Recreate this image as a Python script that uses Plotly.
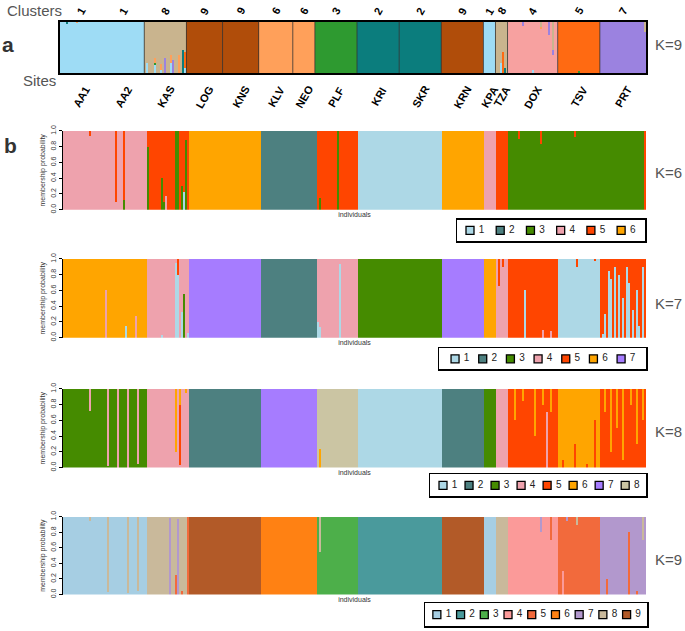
import numpy as np
import plotly.graph_objects as go

W, H = 685, 631

# ---------------- data ----------------
site_names = ["AA1", "AA2", "KAS", "LOG", "KNS", "KLV", "NEO", "PLF", "KRI", "SKR",
              "KRN", "KPA", "TZA", "DOX", "TSV", "PRT"]
site_counts = [21, 21, 21, 18, 18, 17, 11, 21, 21, 21, 21, 6, 6, 25, 21, 23]

# panel a (K=9) dominant cluster per site (also the "Clusters" labels)
dominant_a = [1, 1, 8, 9, 9, 6, 6, 3, 2, 2, 9, 1, 8, 4, 5, 7]
dominant_k6 = [4, 4, 5, 6, 6, 2, 2, 5, 1, 1, 6, 4, 5, 3, 3, 3]
dominant_k7 = [6, 6, 4, 7, 7, 2, 2, 4, 3, 3, 7, 6, 4, 5, 1, 5]
dominant_k8 = [3, 3, 4, 2, 2, 7, 7, 8, 1, 1, 2, 3, 4, 5, 6, 5]
dominant_k9 = [1, 1, 8, 9, 9, 6, 6, 3, 2, 2, 9, 1, 8, 4, 5, 7]

# admixed individuals: index -> {cluster: membership}
admix_a = {3: {2: 0.04}, 8: {6: 0.03}, 43: {1: 0.2}, 47: {1: 0.15, 3: 0.05, 6: 0.1},
           50: {1: 0.05, 6: 0.12}, 52: {7: 0.3}, 55: {1: 0.2, 6: 0.15}, 56: {7: 0.25},
           59: {6: 0.35}, 61: {2: 0.45}, 62: {1: 0.1, 5: 0.3}, 219: {1: 0.2},
           220: {5: 0.4}, 221: {2: 0.1}, 230: {7: 0.08}, 235: {1: 0.05},
           239: {6: 0.05, 8: 0.1}, 243: {7: 0.25}, 245: {7: 0.1, 8: 0.55},
           258: {3: 0.03}, 291: {8: 0.2}}
admix_k6 = {13: {5: 0.07}, 26: {5: 0.9}, 30: {3: 0.12, 5: 0.88}, 42: {3: 0.8},
            49: {3: 0.4}, 51: {4: 0.18}, 50: {3: 0.1}, 56: {3: 1.0}, 57: {3: 1.0},
            59: {3: 0.3}, 60: {1: 0.23}, 61: {3: 0.88}, 128: {3: 0.15}, 137: {3: 1.0},
            228: {5: 0.1}, 239: {5: 0.17}, 256: {5: 0.08}, 291: {5: 1.0}}
admix_k7 = {21: {4: 0.6}, 31: {1: 0.15}, 36: {4: 0.28}, 49: {1: 0.03}, 56: {1: 0.95},
            57: {1: 0.8, 5: 0.2}, 59: {1: 0.33}, 60: {3: 0.55}, 62: {1: 0.06},
            127: {1: 0.2}, 128: {1: 0.13}, 138: {1: 0.93}, 218: {5: 0.35}, 220: {5: 0.1},
            231: {1: 0.6}, 240: {4: 0.1}, 244: {4: 0.08}, 257: {5: 0.1}, 266: {5: 0.03},
            270: {1: 0.05}, 271: {1: 0.3}, 273: {1: 0.85}, 274: {1: 0.75}, 276: {1: 0.9},
            278: {1: 0.8}, 280: {1: 0.5}, 282: {1: 0.9}, 283: {1: 0.7}, 285: {1: 0.35},
            287: {1: 0.6}, 288: {1: 0.15}, 290: {1: 0.9}}
admix_k8 = {13: {4: 0.28}, 22: {4: 0.98}, 27: {4: 1.0}, 32: {4: 1.0}, 37: {4: 0.95},
            56: {6: 0.8}, 58: {5: 0.77, 6: 0.2}, 61: {6: 0.05}, 128: {6: 0.23},
            226: {6: 0.4}, 230: {6: 0.15}, 236: {6: 0.6}, 240: {6: 0.2}, 242: {4: 0.7},
            244: {6: 0.3}, 250: {5: 0.1}, 256: {5: 0.3}, 262: {5: 0.05}, 266: {5: 0.6},
            271: {6: 0.3}, 274: {6: 0.8}, 277: {6: 0.5}, 280: {6: 0.9}, 284: {6: 0.2},
            287: {6: 0.7}, 290: {6: 0.4}}
admix_k9 = {13: {8: 0.05}, 22: {8: 0.97}, 32: {8: 0.98}, 37: {8: 0.95}, 53: {7: 0.98},
            56: {5: 0.25}, 57: {7: 0.97}, 59: {5: 0.05}, 62: {5: 1.0}, 128: {8: 0.45},
            239: {7: 0.2}, 244: {5: 0.3}, 250: {4: 0.3}, 252: {7: 0.05}, 257: {8: 0.1},
            272: {5: 0.2}, 283: {5: 0.8}, 287: {5: 0.05}, 290: {8: 0.3}}

colors_a = ["#9edcf5", "#0b7d7d", "#2e9a30", "#f7a1a0", "#ff6a12", "#ffa05a",
            "#9b82e0", "#c9b48e", "#b04d0a"]
colors_b = ["#add8e6", "#4d8080", "#458b00", "#eea2ad", "#ff4500", "#ffa500",
            "#a67cff", "#cbc5a3"]
colors_b9 = ["#a6cee3", "#4a9a9c", "#4daf4a", "#fb9a99", "#f26a3c", "#ff8113",
             "#b298cd", "#c9b99b", "#b25a28"]

# ---------------- helpers ----------------
def px(x):
    return x / W

def py(y):
    return 1 - y / H

N = sum(site_counts)
site_of = np.repeat(np.arange(len(site_counts)), site_counts)
starts = np.concatenate([[0], np.cumsum(site_counts)[:-1]])
centers = starts + np.array(site_counts) / 2 - 0.5
idx = np.arange(N)


def membership(K, dominant, admix):
    q = np.zeros((N, K))
    for i in range(N):
        d = dominant[site_of[i]]
        extra = admix.get(i, {})
        rest = 1.0
        for c, v in extra.items():
            q[i, c - 1] += v
            rest -= v
        q[i, d - 1] += max(rest, 0)
    return q


fig = go.Figure()

panels = [
    # K, dominant, admix, colors, axis n, y0, y1
    (9, dominant_a, admix_a, colors_a, 1, 16, 68),
    (6, dominant_k6, admix_k6, colors_b, 2, 127, 207),
    (7, dominant_k7, admix_k7, colors_b, 3, 257, 337),
    (8, dominant_k8, admix_k8, colors_b, 4, 389, 469),
    (9, dominant_k9, admix_k9, colors_b9, 5, 519, 598),
]
legend_boxes = {2: (457, 645, 217, 239, -0.43, 5.79),
                3: (439, 646, 348, 369, -0.58, 6.9),
                4: (430, 646, 476, 498, -0.5, 7.8),
                5: (425, 647, 607, 630, -0.5, 8.86)}

FONT = "Liberation Sans, Arial, sans-serif"

for K, dom, adm, cols, n, y0, y1 in panels:
    q = membership(K, dom, adm)
    xa = "x" if n == 1 else f"x{n}"
    ya = "y" if n == 1 else f"y{n}"
    for c in range(K):
        fig.add_trace(go.Bar(x=idx, y=q[:, c], xaxis=xa, yaxis=ya,
                             marker=dict(color=cols[c], line=dict(width=0)),
                             showlegend=False, hoverinfo="skip"))
    x0p = 60 if n == 1 else 63
    xkey = "xaxis" if n == 1 else f"xaxis{n}"
    ykey = "yaxis" if n == 1 else f"yaxis{n}"
    if n == 1:
        fig.update_layout(**{
            xkey: dict(domain=[px(x0p), px(646)], range=[-0.5, N - 0.5], showticklabels=False,
                       ticks="", showgrid=False, zeroline=False, showline=True, mirror=True,
                       linecolor="black", linewidth=2, anchor=ya),
            ykey: dict(domain=[py(y1), py(y0)], range=[0, 1], showticklabels=False, ticks="",
                       showgrid=False, zeroline=False, showline=True, mirror=True,
                       linecolor="black", linewidth=2, anchor=xa),
        })
    else:
        fig.update_layout(**{
            xkey: dict(domain=[px(x0p), px(646)], range=[-0.5, N - 0.5], showticklabels=False,
                       ticks="", showgrid=False, zeroline=False, showline=False, anchor=ya,
                       title=dict(text="individuals", font=dict(size=7, color="#333", family=FONT),
                                  standoff=2)),
            ykey: dict(domain=[py(y1), py(y0)], range=[0, 1], tickvals=[0, 0.2, 0.4, 0.6, 0.8, 1.0],
                       ticktext=["0.0", "0.2", "0.4", "0.6", "0.8", "1.0"], tickangle=-90,
                       tickfont=dict(size=7, color="#333", family=FONT), ticks="outside", ticklen=3,
                       tickcolor="black", showgrid=False, zeroline=False, showline=True,
                       linecolor="black", linewidth=1, anchor=xa,
                       title=dict(text="membership probability",
                                  font=dict(size=7, color="#333", family=FONT), standoff=3)),
        })
        # legend subplot
        lx0, lx1, ly0, ly1, lo, hi = legend_boxes[n]
        ln = n + 4
        lxa, lya = f"x{ln}", f"y{ln}"
        fig.add_trace(go.Scatter(x=list(range(K)), y=[0] * K, xaxis=lxa, yaxis=lya,
                                 mode="markers+text", text=[f" {c + 1}" for c in range(K)],
                                 textposition="middle right",
                                 textfont=dict(size=10, color="#222", family=FONT),
                                 marker=dict(symbol="square", size=8, color=cols[:K],
                                             line=dict(color="black", width=1.3)),
                                 showlegend=False, hoverinfo="skip", cliponaxis=False))
        fig.update_layout(**{
            f"xaxis{ln}": dict(domain=[px(lx0), px(lx1)], range=[lo, hi], visible=True,
                               showticklabels=False, ticks="", showgrid=False, zeroline=False,
                               showline=True, mirror=True, linecolor="black", linewidth=1.5,
                               anchor=lya),
            f"yaxis{ln}": dict(domain=[py(ly1), py(ly0)], range=[-1, 1], showticklabels=False,
                               ticks="", showgrid=False, zeroline=False, showline=True,
                               mirror=True, linecolor="black", linewidth=1.5, anchor=lxa),
        })

# site boundary lines in panel a
shapes = []
for b in np.cumsum(site_counts)[1:-1]:
    shapes.append(dict(type="line", xref="x", yref="y domain", x0=b - 0.5, x1=b - 0.5,
                       y0=0, y1=1, line=dict(color="#333", width=0.8)))

annotations = []
annotations.append(dict(text="Clusters", x=px(5), y=py(5), xref="paper", yref="paper",
                        xanchor="left", yanchor="middle", showarrow=False,
                        font=dict(size=15, color="#555", family=FONT)))
annotations.append(dict(text="Sites", x=px(58), y=py(76), xref="paper", yref="paper",
                        xanchor="right", yanchor="middle", showarrow=False,
                        font=dict(size=15, color="#555", family=FONT)))
annotations.append(dict(text="<b>a</b>", x=px(8), y=py(39), xref="paper", yref="paper",
                        xanchor="center", yanchor="middle", showarrow=False,
                        font=dict(size=21, color="#333", family=FONT)))
annotations.append(dict(text="<b>b</b>", x=px(10), y=py(142), xref="paper", yref="paper",
                        xanchor="center", yanchor="middle", showarrow=False,
                        font=dict(size=21, color="#333", family=FONT)))
for txt, yy in [("K=9", 39), ("K=6", 169), ("K=7", 302), ("K=8", 432), ("K=9", 562)]:
    annotations.append(dict(text=txt, x=px(653), y=py(yy), xref="paper", yref="paper",
                            xanchor="left", yanchor="middle", showarrow=False,
                            font=dict(size=15, color="#555", family=FONT)))
for name, cx, cl in zip(site_names, centers, dominant_a):
    annotations.append(dict(text=f"<b>{name}</b>", x=cx, y=py(92), xref="x", yref="paper",
                            xanchor="center", yanchor="middle", textangle=-60, showarrow=False,
                            font=dict(size=11, color="black", family=FONT)))
    annotations.append(dict(text=f"<b>{cl}</b>", x=cx, y=py(5), xref="x", yref="paper",
                            xanchor="center", yanchor="middle", textangle=-60, showarrow=False,
                            font=dict(size=11, color="black", family=FONT)))

fig.update_layout(width=W, height=H, margin=dict(l=0, r=0, t=0, b=0),
                  paper_bgcolor="white", plot_bgcolor="white", barmode="stack", bargap=0,
                  showlegend=False, shapes=shapes, annotations=annotations,
                  font=dict(family=FONT))

fig.write_html("out.html", config={"displayModeBar": False, "staticPlot": True},
               post_script="document.body.style.margin='0';document.body.style.overflow='hidden';")
